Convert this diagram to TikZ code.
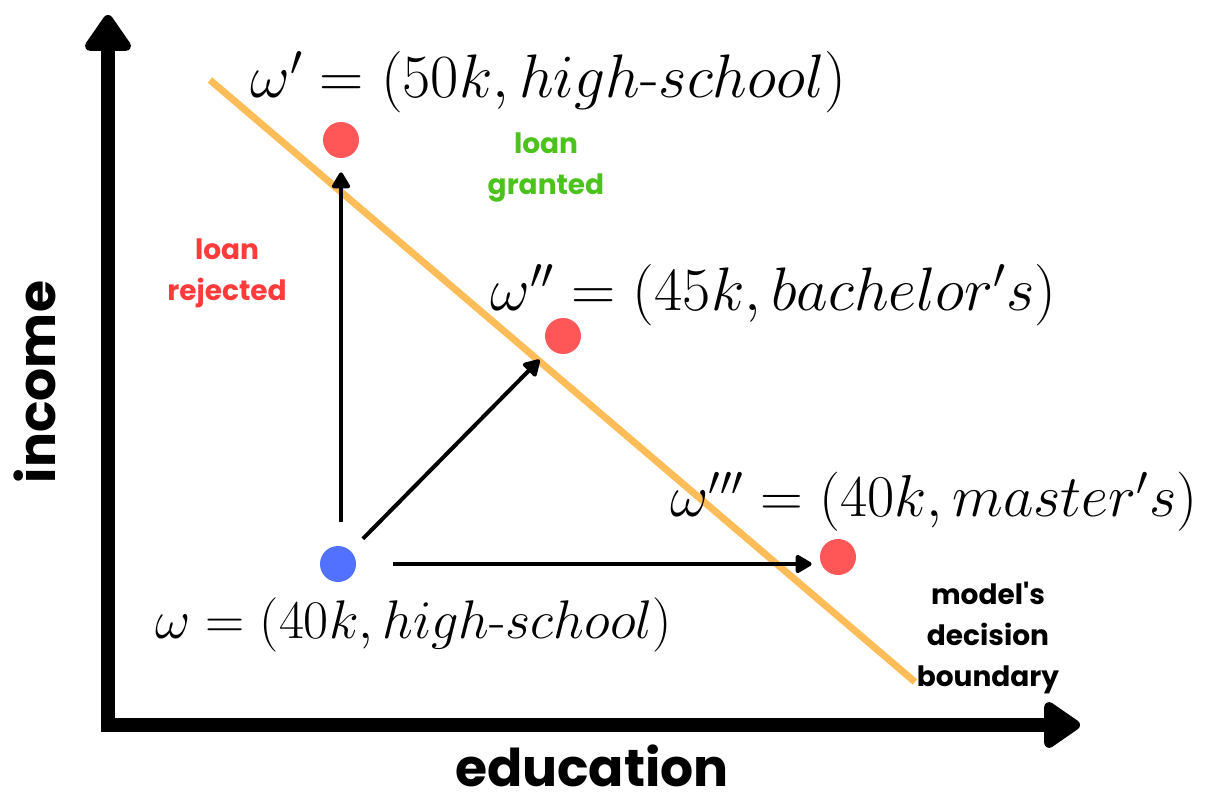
\RequirePackage{fix-cm}
\documentclass[tikz,border=0pt]{standalone}
\usepackage{amsmath}
\usepackage{fontspec}
\newfontfamily\poppins{Poppins}
\usepackage{tikz}
\usetikzlibrary{arrows.meta,positioning,calc}
\definecolor{Boundary}{HTML}{FFBD59}
\definecolor{DotRed}{HTML}{FF5757}
\definecolor{DotBlue}{HTML}{5271FF}
\definecolor{TxtRed}{HTML}{FF3B3B}
\definecolor{TxtGreen}{HTML}{4CC21D}

\begin{document}
\begin{tikzpicture}[x=0.5pt, y=-0.5pt, >=Latex]
\tikzset{axis/.style={line width=7pt, {Triangle[length=20pt,width=26pt,round]}-{Triangle[length=20pt,width=26pt,round]}}, move/.style={line width=2pt, -{Triangle[length=9pt,width=10pt,round]}}, dot/.style={circle, minimum size=18pt, inner sep=0pt}, reddot/.style={dot, fill=DotRed}, bluedot/.style={dot, fill=DotBlue}, mathlbl/.style={inner sep=0pt, anchor=west, font=\fontsize{#1}{32}\selectfont}, axislbl/.style={inner sep=0pt, font=\poppins\bfseries\fontsize{26}{32}\selectfont}, smalllbl/.style={align=center, inner sep=0pt, font=\poppins\bfseries\fontsize{14}{20.5}\selectfont}}
\useasboundingbox (0,0) rectangle (1206,797);
\coordinate (origin) at (108,725); \coordinate (ytop) at (108,15); \coordinate (xend) at (1080,725);
\coordinate (bndA) at (210,80); \coordinate (bndB) at (915,682);
\draw[axis] (ytop) -- (origin) -- (xend);
\draw[line width=3.5pt, Boundary] (bndA) -- (bndB);
\node[bluedot] (w) at (338,564) {};
\node[reddot] (w1) at (341,140) {};
\node[reddot] (w2) at (563,336) {};
\node[reddot] (w3) at (838,557) {};
\draw[move, shorten <=12pt, shorten >=7pt] (w.north -| w1.south) -- (w1.south);
\draw[move, shorten <=8.5pt, shorten >=7.5pt] (w) -- (w2);
\draw[move, shorten <=18.5pt, shorten >=4pt] (w.east) -- (w.east -| w3.west);
\node[mathlbl=30.7] (w1lbl) at (250,82) {$\omega' = (50k, high\text{-}school)$};
\node[mathlbl=30.7] (w2lbl) at (490,295) {$\omega'' = (45k, bachelor's)$};
\node[mathlbl=29.6] (w3lbl) at (670,502) {$\omega''' = (40k, master's)$};
\node[mathlbl=27.2] (wlbl) at (155,625) {$\omega = (40k, high\text{-}school)$};
\node[axislbl, rotate=90] (ylbl) at (35,382) {income};
\node[axislbl] (xlbl) at (592,766) {education};
\node[smalllbl, text=TxtRed] (rej) at (227,273) {loan\\rejected};
\node[smalllbl, text=TxtGreen] (grant) at (546,167) {loan\\granted};
\node[smalllbl] (bnd) at (988,638) {model\textquotesingle s\\decision\\boundary};
\end{tikzpicture}
\end{document}
